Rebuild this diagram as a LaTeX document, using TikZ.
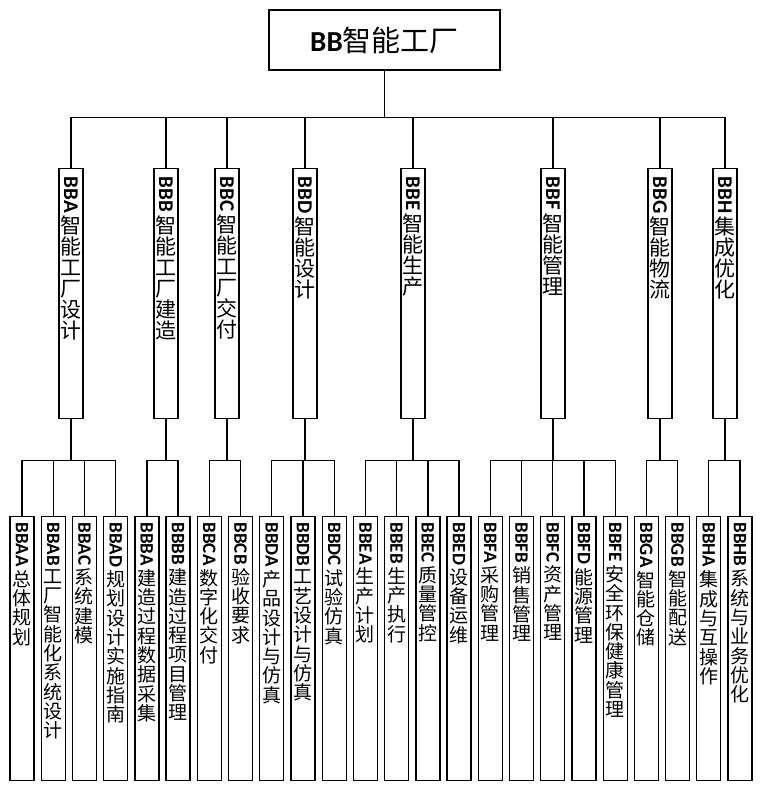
\documentclass[tikz,border=0pt]{standalone}
\usepackage{graphicx}
\usepackage{fontspec}
\setmainfont{Noto Sans CJK SC}
\newfontfamily\latinfont{Carlito}

\makeatletter
% upright CJK characters under a sideways code
\newcommand\vlabel[3]{\vbox to #1{\hsize=24pt\parindent=0pt\centering
  \rotatebox{-90}{\latinfont\bfseries #2}\par\vskip2.5pt
  \expandafter\@tfor\expandafter\vch\expandafter:\expandafter=#3\do{\vch\\}\par\vfil}}
\makeatother

\tikzset{
  rootbox/.style={draw, line width=1.3pt, minimum width=231pt, minimum height=60pt,
    inner sep=0pt, font=\fontsize{29}{30}\selectfont},
  midbox/.style={draw, line width=1.3pt, anchor=north, minimum width=24pt,
    inner xsep=0pt, inner ysep=8pt, font=\fontsize{21}{21}\selectfont},
  leafbox/.style={draw, line width=1.3pt, anchor=north, minimum width=24pt,
    inner xsep=0pt, inner ysep=6pt, font=\fontsize{19}{19.3}\selectfont},
  link/.style={line width=1.3pt}
}

\begin{document}
\begin{tikzpicture}[x=1pt, y=-1pt]
\useasboundingbox (0,0) rectangle (762,790);

\node[rootbox] (BB) at (384.5,40) {{\latinfont\bfseries BB}智能工厂};

\node[midbox] (BBA) at (71,168) {\vlabel{234pt}{BBA}{智能工厂设计}};
\node[midbox] (BBB) at (166,168) {\vlabel{234pt}{BBB}{智能工厂建造}};
\node[midbox] (BBC) at (227,168) {\vlabel{234pt}{BBC}{智能工厂交付}};
\node[midbox] (BBD) at (305,168) {\vlabel{234pt}{BBD}{智能设计}};
\node[midbox] (BBE) at (413,168) {\vlabel{234pt}{BBE}{智能生产}};
\node[midbox] (BBF) at (553,168) {\vlabel{234pt}{BBF}{智能管理}};
\node[midbox] (BBG) at (660,168) {\vlabel{234pt}{BBG}{智能物流}};
\node[midbox] (BBH) at (725,168) {\vlabel{234pt}{BBH}{集成优化}};

\foreach \nm/\tx [count=\i from 0] in {BBAA/总体规划, BBAB/工厂智能化系统设计,
    BBAC/系统建模, BBAD/规划设计实施指南, BBBA/建造过程数据采集, BBBB/建造过程项目管理,
    BBCA/数字化交付, BBCB/验收要求, BBDA/产品设计与仿真, BBDB/工艺设计与仿真,
    BBDC/试验仿真, BBEA/生产计划, BBEB/生产执行, BBEC/质量管控, BBED/设备运维,
    BBFA/采购管理, BBFB/销售管理, BBFC/资产管理, BBFD/能源管理, BBFE/安全环保健康管理,
    BBGA/智能仓储, BBGB/智能配送, BBHA/集成与互操作, BBHB/系统与业务优化}
  \node[leafbox] (\nm) at ({22+31.22*\i},516) {\vlabel{252pt}{\nm}{\tx}};

\foreach \c in {BBA,BBB,BBC,BBD,BBE,BBF,BBG,BBH}
  \draw[link] (BB.south) -- ++(0,47) -| (\c.north);

\foreach \c in {BBAA,BBAB,BBAC,BBAD} \draw[link] (BBA.south) -- ++(0,41) -| (\c.north);
\foreach \c in {BBBA,BBBB} \draw[link] (BBB.south) -- ++(0,41) -| (\c.north);
\foreach \c in {BBCA,BBCB} \draw[link] (BBC.south) -- ++(0,41) -| (\c.north);
\foreach \c in {BBDA,BBDB,BBDC} \draw[link] (BBD.south) -- ++(0,41) -| (\c.north);
\foreach \c in {BBEA,BBEB,BBEC,BBED} \draw[link] (BBE.south) -- ++(0,41) -| (\c.north);
\foreach \c in {BBFA,BBFB,BBFC,BBFD,BBFE} \draw[link] (BBF.south) -- ++(0,41) -| (\c.north);
\foreach \c in {BBGA,BBGB} \draw[link] (BBG.south) -- ++(0,41) -| (\c.north);
\foreach \c in {BBHA,BBHB} \draw[link] (BBH.south) -- ++(0,41) -| (\c.north);
\end{tikzpicture}
\end{document}
